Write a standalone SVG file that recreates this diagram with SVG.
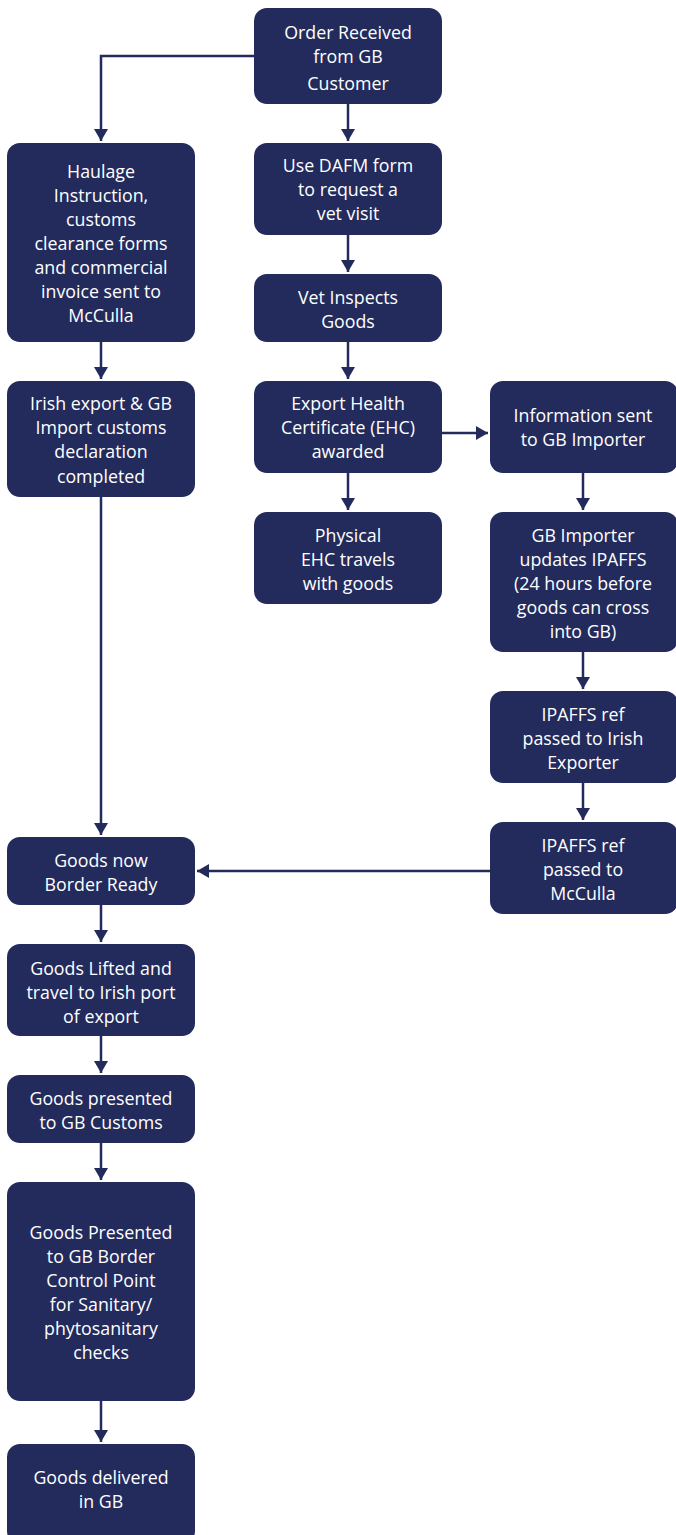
<svg xmlns="http://www.w3.org/2000/svg" width="676" height="1535" viewBox="0 0 676 1535">
<defs>
<style>
.box{fill:#232b5d;}
.t{fill:#ffffff;font-family:"Open Sans","Noto Sans",sans-serif;font-size:17.8px;text-anchor:middle;}
.c{fill:none;stroke:#232b5d;stroke-width:2.5;}
</style>
<marker id="ah" markerWidth="12" markerHeight="14" refX="12" refY="7" orient="auto" markerUnits="userSpaceOnUse">
<path d="M0,0 L12,7 L0,14 Z" fill="#232b5d"/>
</marker>
</defs>
<rect width="676" height="1535" fill="#ffffff"/>
<g id="connectors">
<path class="c" d="M254,56 H101 V141" marker-end="url(#ah)"/>
<path class="c" d="M348,104 V141" marker-end="url(#ah)"/>
<path class="c" d="M101,342 V379" marker-end="url(#ah)"/>
<path class="c" d="M348,235 V272" marker-end="url(#ah)"/>
<path class="c" d="M348,342 V379" marker-end="url(#ah)"/>
<path class="c" d="M442,433 H488" marker-end="url(#ah)"/>
<path class="c" d="M348,473 V510" marker-end="url(#ah)"/>
<path class="c" d="M583,473 V510" marker-end="url(#ah)"/>
<path class="c" d="M583,652 V689" marker-end="url(#ah)"/>
<path class="c" d="M583,783 V820" marker-end="url(#ah)"/>
<path class="c" d="M490,871 H197" marker-end="url(#ah)"/>
<path class="c" d="M101,497 V835" marker-end="url(#ah)"/>
<path class="c" d="M101,905 V942" marker-end="url(#ah)"/>
<path class="c" d="M101,1036 V1073" marker-end="url(#ah)"/>
<path class="c" d="M101,1143 V1180" marker-end="url(#ah)"/>
<path class="c" d="M101,1401 V1442" marker-end="url(#ah)"/>
</g>
<g id="n-order">
<rect class="box" x="254" y="8" width="188" height="96" rx="13"/>
<text class="t" x="348" y="39">Order Received</text>
<text class="t" x="348" y="63">from GB</text>
<text class="t" x="348" y="90">Customer</text>
</g>
<g id="n-haulage">
<rect class="box" x="7" y="143" width="188" height="199" rx="13"/>
<text class="t" x="101" y="178">Haulage</text>
<text class="t" x="101" y="202">Instruction,</text>
<text class="t" x="101" y="226">customs</text>
<text class="t" x="101" y="250">clearance forms</text>
<text class="t" x="101" y="274">and commercial</text>
<text class="t" x="101" y="298">invoice sent to</text>
<text class="t" x="101" y="322">McCulla</text>
</g>
<g id="n-dafm">
<rect class="box" x="254" y="143" width="188" height="92" rx="13"/>
<text class="t" x="348" y="172">Use DAFM form</text>
<text class="t" x="348" y="196">to request a</text>
<text class="t" x="348" y="220">vet visit</text>
</g>
<g id="n-vet">
<rect class="box" x="254" y="274" width="188" height="68" rx="13"/>
<text class="t" x="348" y="304">Vet Inspects</text>
<text class="t" x="348" y="328">Goods</text>
</g>
<g id="n-irish-export">
<rect class="box" x="7" y="381" width="188" height="116" rx="13"/>
<text class="t" x="101" y="410">Irish export &amp; GB</text>
<text class="t" x="101" y="434">Import customs</text>
<text class="t" x="101" y="458">declaration</text>
<text class="t" x="101" y="483">completed</text>
</g>
<g id="n-ehc">
<rect class="box" x="254" y="381" width="188" height="92" rx="13"/>
<text class="t" x="348" y="410">Export Health</text>
<text class="t" x="348" y="434">Certificate (EHC)</text>
<text class="t" x="348" y="458">awarded</text>
</g>
<g id="n-info">
<rect class="box" x="490" y="381" width="188" height="92" rx="13"/>
<text class="t" x="583" y="422">Information sent</text>
<text class="t" x="583" y="446">to GB Importer</text>
</g>
<g id="n-physical">
<rect class="box" x="254" y="512" width="188" height="92" rx="13"/>
<text class="t" x="348" y="542">Physical</text>
<text class="t" x="348" y="566">EHC travels</text>
<text class="t" x="348" y="590">with goods</text>
</g>
<g id="n-gb-importer">
<rect class="box" x="490" y="512" width="188" height="140" rx="13"/>
<text class="t" x="583" y="542">GB Importer</text>
<text class="t" x="583" y="566">updates IPAFFS</text>
<text class="t" x="583" y="590">(24 hours before</text>
<text class="t" x="583" y="614">goods can cross</text>
<text class="t" x="583" y="638">into GB)</text>
</g>
<g id="n-ipaffs-exporter">
<rect class="box" x="490" y="691" width="188" height="92" rx="13"/>
<text class="t" x="583" y="721">IPAFFS ref</text>
<text class="t" x="583" y="745">passed to Irish</text>
<text class="t" x="583" y="769">Exporter</text>
</g>
<g id="n-ipaffs-mcculla">
<rect class="box" x="490" y="822" width="188" height="92" rx="13"/>
<text class="t" x="583" y="852">IPAFFS ref</text>
<text class="t" x="583" y="876">passed to</text>
<text class="t" x="583" y="900">McCulla</text>
</g>
<g id="n-border-ready">
<rect class="box" x="7" y="837" width="188" height="68" rx="13"/>
<text class="t" x="101" y="867">Goods now</text>
<text class="t" x="101" y="891">Border Ready</text>
</g>
<g id="n-lifted">
<rect class="box" x="7" y="944" width="188" height="92" rx="13"/>
<text class="t" x="101" y="975">Goods Lifted and</text>
<text class="t" x="101" y="999">travel to Irish port</text>
<text class="t" x="101" y="1023">of export</text>
</g>
<g id="n-customs">
<rect class="box" x="7" y="1075" width="188" height="68" rx="13"/>
<text class="t" x="101" y="1105">Goods presented</text>
<text class="t" x="101" y="1129">to GB Customs</text>
</g>
<g id="n-bcp">
<rect class="box" x="7" y="1182" width="188" height="219" rx="13"/>
<text class="t" x="101" y="1239">Goods Presented</text>
<text class="t" x="101" y="1263">to GB Border</text>
<text class="t" x="101" y="1287">Control Point</text>
<text class="t" x="101" y="1311">for Sanitary/</text>
<text class="t" x="101" y="1335">phytosanitary</text>
<text class="t" x="101" y="1359">checks</text>
</g>
<g id="n-delivered">
<rect class="box" x="7" y="1444" width="188" height="100" rx="13"/>
<text class="t" x="101" y="1484">Goods delivered</text>
<text class="t" x="101" y="1508">in GB</text>
</g>
</svg>
